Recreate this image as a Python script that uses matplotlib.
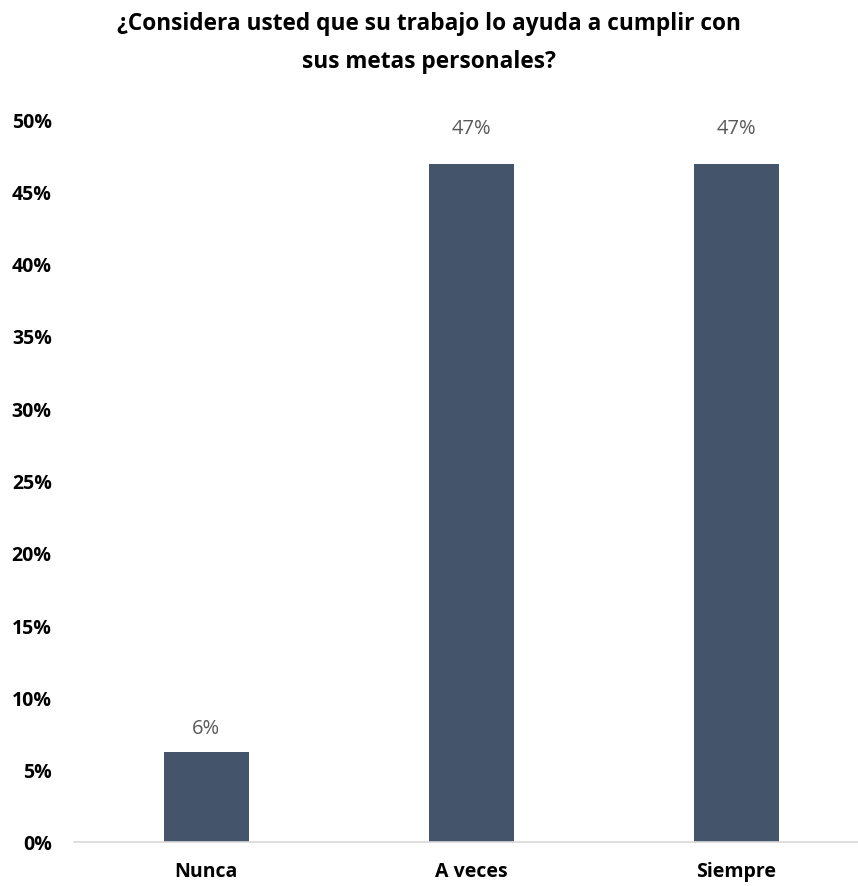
import matplotlib
matplotlib.use("Agg")
import matplotlib.pyplot as plt
from matplotlib.ticker import FuncFormatter

# data
categories = ["Nunca", "A veces", "Siempre"]
values = [6.25, 46.875, 46.875]
labels = ["6%", "47%", "47%"]
yticks = [0, 5, 10, 15, 20, 25, 30, 35, 40, 45, 50]

plt.rcParams['font.family'] = ['Open Sans', 'DejaVu Sans']

fig = plt.figure(figsize=(8.58, 8.87), dpi=100)
ax = fig.add_axes([74 / 858, 44 / 887, 1 - 74 / 858, (843 - 120) / 887])

bar_color = "#44546A"
ax.bar(range(len(categories)), values, width=0.32, color=bar_color, zorder=2)

# label gap above the bars (pixels)
label_pad = [14, 26, 26]
for i, (v, lab) in enumerate(zip(values, labels)):
    ax.annotate(lab, (i, v), xytext=(0, label_pad[i] * 0.72), textcoords="offset points",
                ha="center", va="bottom", fontsize=14.5, color="#595959")

ax.set_xlim(-0.5, 2.46)
ax.set_ylim(0, 50)
ax.set_yticks(yticks)
ax.yaxis.set_major_formatter(FuncFormatter(lambda v, p: f"{v:.0f}%"))
ax.set_xticks(range(len(categories)))
ax.set_xticklabels(categories)

for s in ["top", "right", "left"]:
    ax.spines[s].set_visible(False)
ax.spines["bottom"].set_color("#D9D9D9")
ax.spines["bottom"].set_linewidth(1.2)

ax.tick_params(axis="both", length=0, labelsize=14, colors="black")
ax.tick_params(axis="y", pad=16)
ax.tick_params(axis="x", pad=14)
for t in ax.get_xticklabels() + ax.get_yticklabels():
    t.set_fontweight("bold")

fig.text(0.5, 1 - 12 / 887, "¿Considera usted que su trabajo lo ayuda a cumplir con\nsus metas personales?",
         ha="center", va="top", fontsize=16.3, fontweight="bold", linespacing=1.8)

fig.savefig("out.png", dpi=100)
